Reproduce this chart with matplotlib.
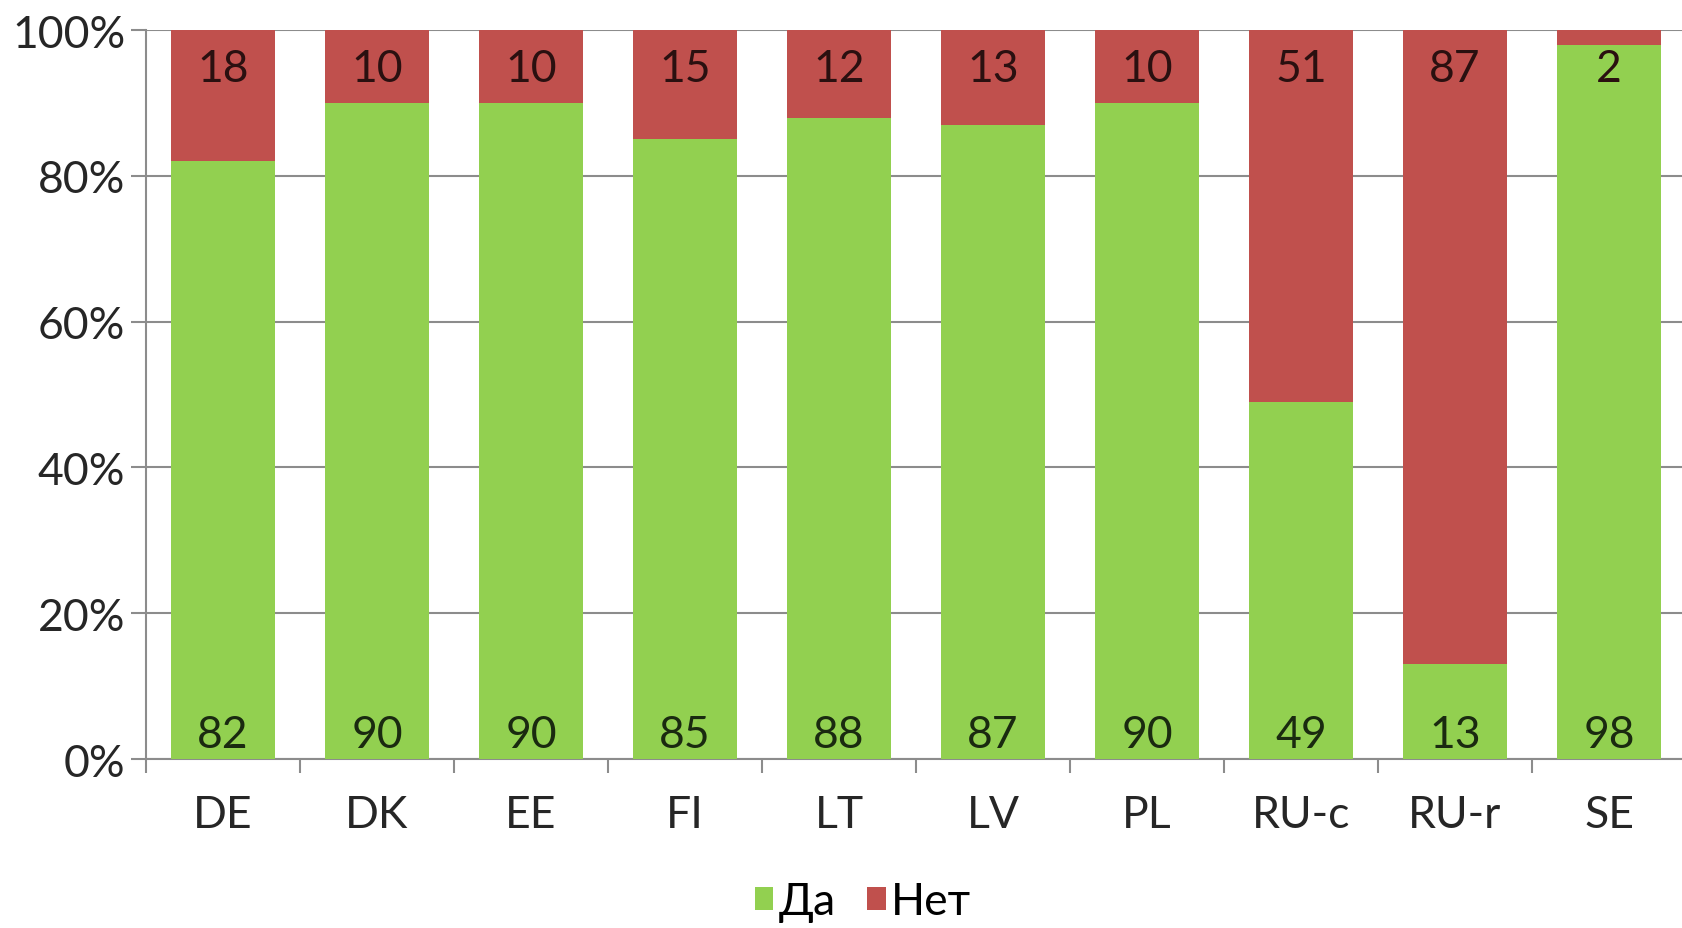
import numpy as np
import matplotlib
matplotlib.use("Agg")
import matplotlib.pyplot as plt
from matplotlib.ticker import FuncFormatter, MultipleLocator, FixedLocator

plt.rcParams['font.family'] = ['Lato', 'Noto Sans', 'DejaVu Sans']

# --- data ---
countries = ['DE', 'DK', 'EE', 'FI', 'LT', 'LV', 'PL', 'RU-c', 'RU-r', 'SE']
yes_vals = [82, 90, 90, 85, 88, 87, 90, 49, 13, 98]
no_vals = [18, 10, 10, 15, 12, 13, 10, 51, 87, 2]
series_names = ['Да', 'Нет']

green = '#92D050'
red = '#C0504D'
grid_col = '#8C8C8C'
fs = 32

fig = plt.figure(figsize=(16.82, 9.29), dpi=100)
ax = fig.add_axes([0.0868, 0.1819, 0.9156, 0.7847])

x = np.arange(len(countries))
w = 0.67
ax.bar(x, yes_vals, w, color=green, label=series_names[0], zorder=3)
ax.bar(x, no_vals, w, bottom=yes_vals, color=red, label=series_names[1], zorder=3)

# data labels: green at base, red at top end
for xi, yv, nv in zip(x, yes_vals, no_vals):
    ax.annotate(str(yv), (xi, 0), xytext=(0, 8.6), textcoords='offset points',
                ha='center', va='baseline', fontsize=fs, color='#1a2a10')
    ax.annotate(str(nv), (xi, yv + nv), xytext=(0, -36.7), textcoords='offset points',
                ha='center', va='baseline', fontsize=fs, color='#2a1010')

ax.set_xlim(-0.5, len(countries) - 0.5)
ax.set_ylim(0, 100)
ax.yaxis.set_major_locator(MultipleLocator(20))
ax.yaxis.set_major_formatter(FuncFormatter(lambda v, p: f'{int(v)}%'))
ax.grid(axis='y', color=grid_col, linewidth=1.5, zorder=0)

ax.set_xticks(x)
ax.set_xticklabels(countries)
ax.xaxis.set_minor_locator(FixedLocator(np.arange(-0.5, len(countries), 1.0)))
ax.tick_params(axis='x', which='major', length=0, pad=25, labelsize=fs, labelcolor='#262626')
ax.tick_params(axis='x', which='minor', length=10, width=1.5, color=grid_col, direction='out')
ax.tick_params(axis='y', length=11, width=1.5, color=grid_col, pad=4, labelsize=fs,
               labelcolor='#262626')

for s in ['top', 'right']:
    ax.spines[s].set_visible(False)
for s in ['left', 'bottom']:
    ax.spines[s].set_color(grid_col)
    ax.spines[s].set_linewidth(1.5)

leg = fig.legend(loc='center', bbox_to_anchor=(0.513, 0.028), ncol=2, frameon=False,
                 fontsize=fs, handlelength=0.42, handleheight=0.42, handletextpad=0.12,
                 columnspacing=0.7, borderaxespad=0)

fig.savefig('out.png', dpi=100)
